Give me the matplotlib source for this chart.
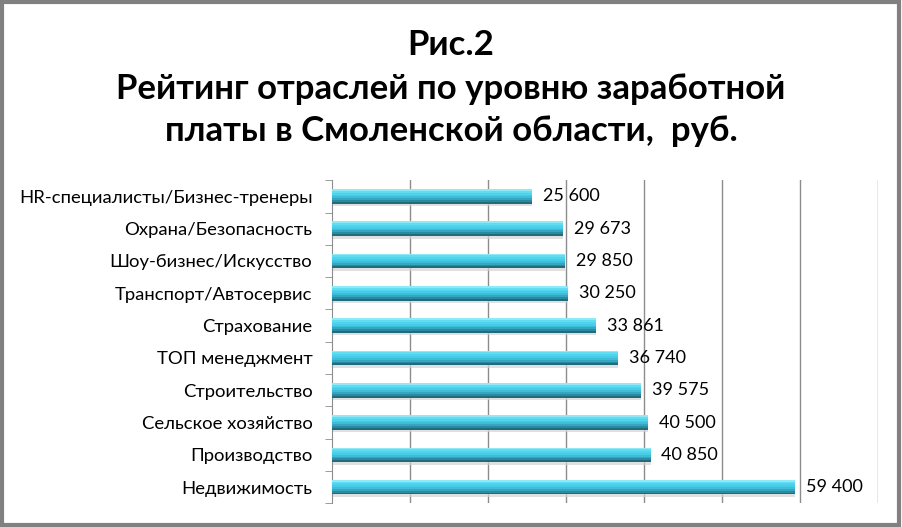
import matplotlib.pyplot as plt
import numpy as np
from matplotlib.patches import Rectangle

plt.rcParams['font.family'] = ['Lato', 'DejaVu Sans']

categories = ['HR-специалисты/Бизнес-тренеры', 'Охрана/Безопасность', 'Шоу-бизнес/Искусство',
              'Транспорт/Автосервис', 'Страхование', 'ТОП менеджмент', 'Строительство',
              'Сельское хозяйство', 'Производство', 'Недвижимость']
salaries = [25600, 29673, 29850, 30250, 33861, 36740, 39575, 40500, 40850, 59400]
value_labels = ['25 600', '29 673', '29 850', '30 250', '33 861', '36 740', '39 575',
                '40 500', '40 850', '59 400']

# top-to-bottom shading of the cylinder-like bars
bar_shades = ['#8feaf8', '#62dcf2', '#4fd4ee', '#48cbe6', '#3fbdd8', '#34a6bf',
              '#2a8ba0', '#206c7d']

n = len(categories)
y = np.arange(n)

fig = plt.figure(figsize=(9.02, 5.27), dpi=100)
ax = fig.add_axes([0.368, 0.045, 0.6053, 0.613])

h = 0.45
ax.barh(y + 0.08, salaries, height=h, color='#d4d4d4', alpha=0.7, zorder=2)   # shadow
k = len(bar_shades)
for i, c in enumerate(bar_shades):
    # y axis is inverted, so the first slice is the top one
    ax.barh(y - h / 2 + (i + 0.5) * h / k, salaries, height=h / k * 1.05, color=c,
            linewidth=0, zorder=3)

for yi, v, lab in zip(y, salaries, value_labels):
    ax.text(v + 1400, yi, lab, va='center', ha='left', fontsize=13, color='black', zorder=6)

ax.set_xlim(0, 70000)
ax.set_ylim(n - 0.5, -0.5)
ax.set_xticks(np.arange(10000, 70001, 10000))
ax.xaxis.grid(True, color='#8c8c8c', linewidth=1)
ax.tick_params(axis='x', length=0, labelbottom=False)
ax.set_axisbelow(True)

ax.set_yticks(y)
ax.set_yticklabels(categories, fontsize=13.3)
ax.set_yticks(np.arange(-0.5, n), minor=True)
ax.tick_params(axis='y', which='major', length=0, pad=14)
ax.tick_params(axis='y', which='minor', length=5, color='#8c8c8c', direction='out')

for s in ['top', 'right', 'bottom']:
    ax.spines[s].set_visible(False)
ax.spines['left'].set_color('#8c8c8c')

fig.text(0.5, 0.915, 'Рис.2', ha='center', va='center', fontsize=25, fontweight='bold')
fig.text(0.5, 0.832, 'Рейтинг отраслей по уровню заработной', ha='center', va='center',
         fontsize=25, fontweight='bold')
fig.text(0.5, 0.752, 'платы в Смоленской области,  руб.', ha='center', va='center',
         fontsize=25, fontweight='bold')

fig.patches.append(Rectangle((0.002, 0.003), 0.995, 0.994, transform=fig.transFigure,
                             fill=False, edgecolor='#808080', linewidth=3))

fig.savefig('out.png', dpi=100)
